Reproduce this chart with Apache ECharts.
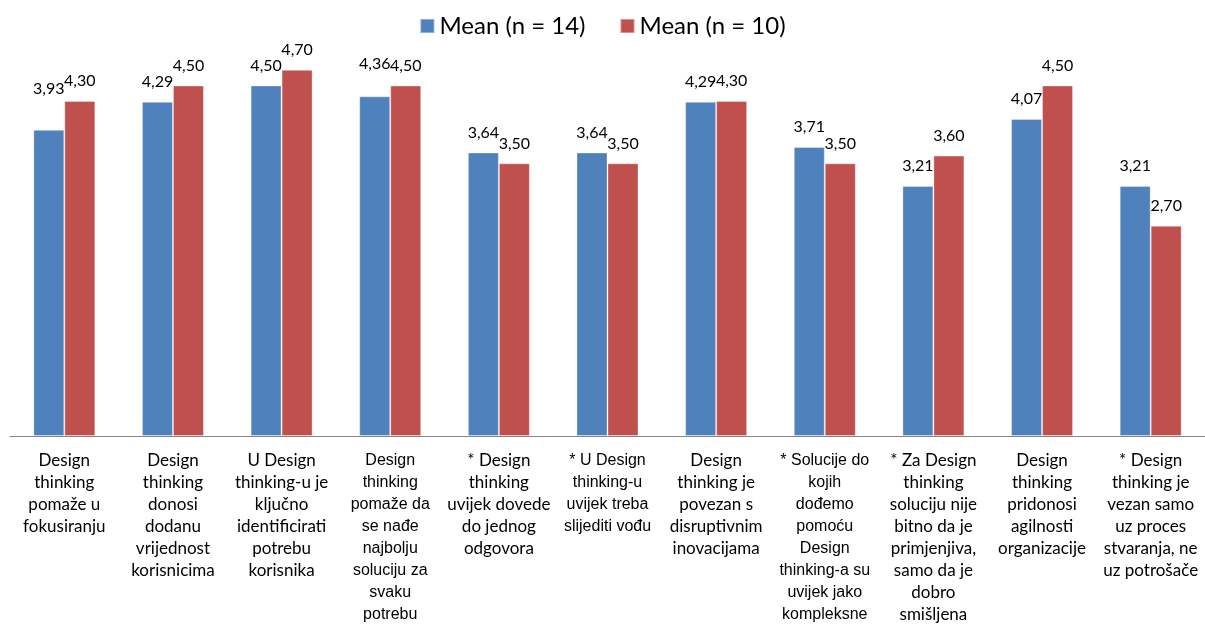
<!DOCTYPE html>
<html>
<head>
<meta charset="utf-8">
<script src="https://cdn.jsdelivr.net/npm/echarts@6/dist/echarts.min.js"></script>
<style>
html,body{margin:0;padding:0;background:#fff;}
#chart{width:1205px;height:627px;}
</style>
</head>
<body>
<div id="chart"></div>
<script>
const categories = [
  "Design\nthinking\npomaže u\nfokusiranju",
  "Design\nthinking\ndonosi\ndodanu\nvrijednost\nkorisnicima",
  "U Design\nthinking-u je\nključno\nidentificirati\npotrebu\nkorisnika",
  "Design\nthinking\npomaže da\nse nađe\nnajbolju\nsoluciju za\nsvaku\npotrebu",
  "* Design\nthinking\nuvijek dovede\ndo jednog\nodgovora",
  "* U Design\nthinking-u\nuvijek treba\nslijediti vođu",
  "Design\nthinking je\npovezan s\ndisruptivnim\ninovacijama",
  "* Solucije do\nkojih\ndođemo\npomoću\nDesign\nthinking-a su\nuvijek jako\nkompleksne",
  "* Za Design\nthinking\nsoluciju nije\nbitno da je\nprimjenjiva,\nsamo da je\ndobro\nsmišljena",
  "Design\nthinking\npridonosi\nagilnosti\norganizacije",
  "* Design\nthinking je\nvezan samo\nuz proces\nstvaranja, ne\nuz potrošače"
];
const seriesNames = ["Mean (n = 14)", "Mean (n = 10)"];
const mean14 = [3.93, 4.29, 4.50, 4.36, 3.64, 3.64, 4.29, 3.71, 3.21, 4.07, 3.21];
const mean10 = [4.30, 4.50, 4.70, 4.50, 3.50, 3.50, 4.30, 3.50, 3.60, 4.50, 2.70];

const calibri = "Lato";
const arialFont = "'Liberation Sans'";
const arialCats = new Set([3, 5, 7]);

function draw() {
  const chart = echarts.init(document.getElementById('chart'));
  const labelCommon = {
    show: true,
    position: 'top',
    distance: 12,
    fontFamily: calibri,
    fontSize: 16,
    color: '#000',
    formatter: p => p.value.toFixed(2).replace('.', ',')
  };
  function buildData(vals, seriesIdx) {
    return vals.map((v, i) => {
      const item = { value: v };
      if (seriesIdx === 0 && i === 0) item.label = { offset: [0, -21] };
      if (seriesIdx === 0 && i === 3) item.label = { offset: [0, -13] };
      return item;
    });
  }
  chart.setOption({
    animation: false,
    legend: {
      top: 9,
      left: 'center',
      itemWidth: 14,
      itemHeight: 14,
      itemGap: 34,
      icon: 'rect',
      textStyle: { fontFamily: calibri, fontSize: 24, color: '#000' },
      data: seriesNames
    },
    grid: { left: 10, right: 0, top: 46.5, bottom: 191, containLabel: false },
    xAxis: {
      type: 'category',
      data: categories,
      axisLine: { lineStyle: { color: '#868686', width: 1 } },
      axisTick: { show: false },
      axisLabel: {
        interval: 0,
        margin: 14,
        formatter: (val, idx) => {
          const key = arialCats.has(idx) ? 'b' : 'a';
          return val.split('\n').map(l => '{' + key + '|' + l + '}').join('\n');
        },
        rich: {
          a: { fontFamily: calibri, fontSize: 17, lineHeight: 22, color: '#000', align: 'center' },
          b: { fontFamily: arialFont, fontSize: 16, lineHeight: 22, color: '#000', align: 'center' }
        }
      }
    },
    yAxis: {
      type: 'value',
      min: 0,
      max: 5,
      show: false,
      splitLine: { show: false }
    },
    series: [
      {
        name: seriesNames[0],
        type: 'bar',
        barWidth: 31,
        barGap: '0%',
        itemStyle: { color: '#4F81BD', borderColor: 'rgba(255,255,255,0.35)', borderWidth: 1 },
        label: labelCommon,
        data: buildData(mean14, 0)
      },
      {
        name: seriesNames[1],
        type: 'bar',
        barWidth: 31,
        barGap: '0%',
        itemStyle: { color: '#C0504D', borderColor: 'rgba(255,255,255,0.35)', borderWidth: 1 },
        label: labelCommon,
        data: buildData(mean10, 1)
      }
    ]
  });
}
let done = false;
function go() { if (!done) { done = true; draw(); } }
if (document.fonts && document.fonts.load) {
  Promise.all([
    document.fonts.load("16px Lato"),
    document.fonts.load("16px 'Liberation Sans'")
  ]).then(go, go);
  setTimeout(go, 1500);
} else {
  go();
}
</script>
</body>
</html>
